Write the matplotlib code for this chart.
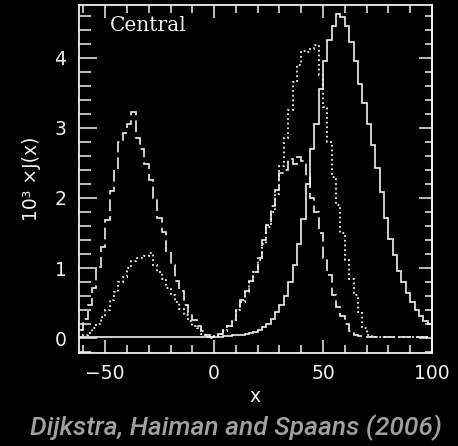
import numpy as np
import matplotlib.pyplot as plt
from matplotlib.ticker import MultipleLocator

# histogram bins of width 2 in x, from -62 to 100
bin_edges = np.arange(-62, 101, 2)

# solid: centred spectrum
solid = [
    0.015, 0.015, 0.012, 0.015, 0.018, 0.015, 0.012, 0.015, 0.018, 0.015,
    0.015, 0.012, 0.015, 0.018, 0.015, 0.015, 0.012, 0.015, 0.018, 0.015,
    0.015, 0.012, 0.015, 0.018, 0.015, 0.015, 0.015, 0.012, 0.015, 0.015,
    0.015, 0.02, 0.02, 0.03, 0.03, 0.04, 0.04, 0.05, 0.06, 0.07,
    0.09, 0.12, 0.16, 0.21, 0.28, 0.37, 0.47, 0.60, 0.80, 1.05,
    1.35, 1.70, 2.20, 2.70, 3.05, 3.55, 3.95, 4.25, 4.45, 4.62,
    4.58, 4.45, 4.22, 3.95, 3.62, 3.35, 3.05, 2.75, 2.42, 2.08,
    1.72, 1.42, 1.18, 0.96, 0.80, 0.65, 0.52, 0.41, 0.32, 0.24,
    0.20,
]

# dotted: double-peaked spectrum
dotted = [
    0.02, 0.04, 0.08, 0.14, 0.20, 0.30, 0.40, 0.55, 0.66, 0.80,
    0.88, 1.00, 1.10, 1.15, 1.14, 1.17, 1.22, 1.05, 0.95, 0.85,
    0.72, 0.62, 0.52, 0.42, 0.33, 0.25, 0.18, 0.14, 0.06, 0.02,
    0.01, 0.03, 0.06, 0.10, 0.18, 0.26, 0.40, 0.52, 0.66, 0.80,
    0.95, 1.12, 1.35, 1.58, 1.80, 2.05, 2.45, 2.85, 3.25, 3.65,
    3.90, 4.10, 4.08, 4.12, 4.18, 3.75, 3.30, 2.80, 2.30, 1.90,
    1.50, 1.12, 0.85, 0.62, 0.38, 0.15, 0.05, 0.03, 0.02, 0.02,
    0.02, 0.02, 0.02, 0.02, 0.02, 0.02, 0.02, 0.02, 0.02, 0.02,
    0.02,
]

# dashed: strong blue peak
dashed = [
    0.12, 0.28, 0.48, 0.72, 1.02, 1.30, 1.68, 2.10, 2.40, 2.80,
    2.92, 3.05, 3.22, 2.85, 2.70, 2.48, 2.25, 2.00, 1.72, 1.52,
    1.25, 1.05, 0.82, 0.68, 0.48, 0.36, 0.26, 0.17, 0.10, 0.04,
    0.02, 0.02, 0.06, 0.12, 0.18, 0.26, 0.40, 0.55, 0.68, 0.82,
    0.95, 1.15, 1.40, 1.62, 1.88, 2.12, 2.35, 2.40, 2.55, 2.48,
    2.58, 2.52, 2.30, 2.00, 1.80, 1.50, 1.15, 0.90, 0.62, 0.45,
    0.32, 0.20, 0.10, 0.05, 0.03, 0.02, 0.02, 0.02, 0.02, 0.02,
    0.02, 0.02, 0.02, 0.02, 0.02, 0.02, 0.02, 0.02, 0.02, 0.02,
    0.02,
]

fg = '#f0f0f0'
plt.rcParams['font.family'] = ['DejaVu Sans']

fig = plt.figure(figsize=(4.58, 4.46), dpi=100, facecolor='black')
ax = fig.add_axes([79 / 458, 93 / 446, 353 / 458, 348 / 446], facecolor='black')

ax.stairs(solid, bin_edges, baseline=None, color=fg, lw=1.2)
ax.stairs(dotted, bin_edges, baseline=None, color=fg, lw=1.3, linestyle=(0, (1, 1.6)))
ax.stairs(dashed, bin_edges, baseline=None, color=fg, lw=1.2, linestyle=(0, (7, 3)))

ax.set_xlim(-62, 100)
ax.set_ylim(-0.21, 4.75)

for s in ax.spines.values():
    s.set_color(fg)
    s.set_linewidth(1.3)

ax.xaxis.set_major_locator(MultipleLocator(50))
ax.xaxis.set_minor_locator(MultipleLocator(10))
ax.yaxis.set_major_locator(MultipleLocator(1))
ax.yaxis.set_minor_locator(MultipleLocator(0.2))

ax.tick_params(axis='x', which='both', direction='in', top=True, bottom=True,
               color=fg, labelcolor=fg, labelsize=13.5, pad=8, width=1.1)
ax.tick_params(axis='x', which='major', length=9.5)
ax.tick_params(axis='x', which='minor', length=5.5)
ax.tick_params(axis='y', which='both', direction='in', left=True, right=False,
               color=fg, labelcolor=fg, labelsize=13.5, pad=9, width=1.1)
ax.tick_params(axis='y', which='major', length=13)
ax.tick_params(axis='y', which='minor', length=8.5)

# right-hand ticks are shorter than the left ones
rax = ax.secondary_yaxis('right')
rax.yaxis.set_major_locator(MultipleLocator(1))
rax.yaxis.set_minor_locator(MultipleLocator(0.2))
rax.tick_params(which='both', direction='in', color=fg, labelright=False, width=1.1)
rax.tick_params(which='major', length=9.5)
rax.tick_params(which='minor', length=5)
rax.spines['right'].set_color(fg)
rax.spines['right'].set_linewidth(1.3)

ax.set_xlabel('x', color=fg, fontsize=13.5, labelpad=3)
ax.set_ylabel('10³ ×J(x)', color=fg, fontsize=13.5, labelpad=10)

ax.text(-48, 4.46, 'Central', color=fg, fontsize=14.5, family='DejaVu Serif',
        va='center', ha='left')

fig.text(0.5 * (27 + 445) / 458, 1 - 428 / 446, 'Dijkstra, Haiman and Spaans (2006)',
         color='#a0a0a0', fontsize=19, family='Roboto', style='italic',
         weight='medium', ha='center', va='center')

fig.savefig('out.png', dpi=100, facecolor='black')
